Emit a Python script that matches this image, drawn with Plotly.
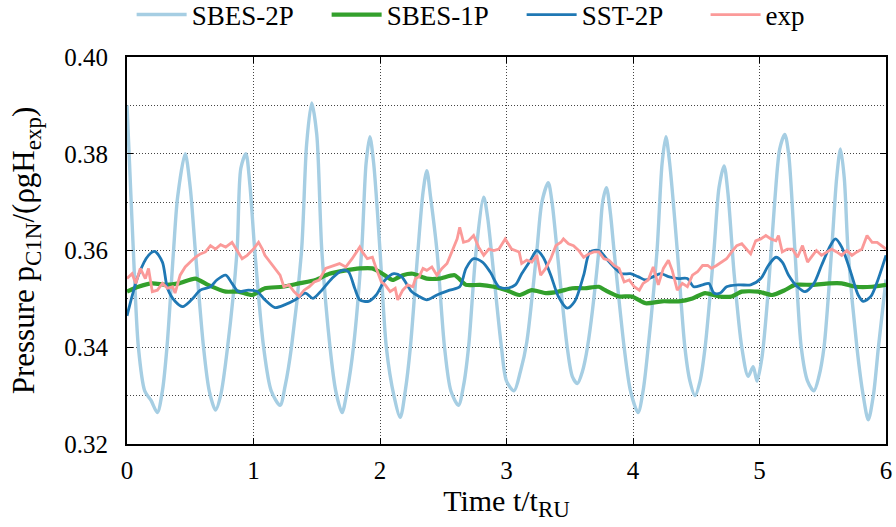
import plotly.graph_objects as go

# ---------------- data ----------------
sbes2p_t = [0.00, 0.02, 0.05, 0.09, 0.14, 0.19, 0.24, 0.28, 0.316, 0.368, 0.40, 0.46, 0.50, 0.54, 0.605, 0.65,
            0.70, 0.74, 0.795, 0.87, 0.90, 0.94, 0.97, 1.01, 1.08, 1.14, 1.21, 1.25, 1.30, 1.38, 1.42, 1.46,
            1.50, 1.54, 1.605, 1.65, 1.70, 1.74, 1.79, 1.855, 1.89, 1.92, 1.95, 2.00, 2.05, 2.11, 2.16, 2.20,
            2.24, 2.30, 2.34, 2.37, 2.40, 2.45, 2.51, 2.56, 2.62, 2.66, 2.70, 2.76, 2.82, 2.85, 2.88, 2.96,
            3.00, 3.06, 3.11, 3.16, 3.24, 3.28, 3.33, 3.36, 3.40, 3.48, 3.52, 3.56, 3.60, 3.64, 3.73, 3.76,
            3.79, 3.82, 3.85, 3.93, 3.98, 4.04, 4.08, 4.12, 4.19, 4.23, 4.26, 4.29, 4.35, 4.41, 4.45, 4.49,
            4.53, 4.57, 4.64, 4.68, 4.72, 4.75, 4.80, 4.86, 4.91, 4.95, 4.98, 5.02, 5.07, 5.12, 5.16, 5.20,
            5.23, 5.28, 5.33, 5.38, 5.43, 5.47, 5.51, 5.57, 5.61, 5.64, 5.67, 5.70, 5.77, 5.82, 5.86, 5.90,
            5.94, 6.00]
sbes2p_v = [0.390, 0.378, 0.360, 0.340, 0.331, 0.329, 0.3265, 0.331, 0.340, 0.360, 0.371, 0.380, 0.373, 0.360, 0.340, 0.331,
            0.327, 0.330, 0.340, 0.360, 0.377, 0.380, 0.374, 0.360, 0.340, 0.331, 0.328, 0.332, 0.340, 0.360, 0.382, 0.3905,
            0.384, 0.360, 0.340, 0.331, 0.3265, 0.331, 0.340, 0.360, 0.378, 0.3835, 0.378, 0.360, 0.340, 0.330, 0.3255, 0.331,
            0.340, 0.360, 0.372, 0.3765, 0.371, 0.360, 0.340, 0.331, 0.328, 0.332, 0.340, 0.360, 0.371, 0.367, 0.360, 0.340,
            0.333, 0.331, 0.335, 0.341, 0.360, 0.370, 0.374, 0.370, 0.360, 0.340, 0.334, 0.3325, 0.335, 0.340, 0.360, 0.370,
            0.373, 0.368, 0.360, 0.340, 0.331, 0.3265, 0.331, 0.340, 0.360, 0.378, 0.3835, 0.378, 0.360, 0.340, 0.333, 0.330,
            0.333, 0.340, 0.360, 0.373, 0.3775, 0.372, 0.355, 0.340, 0.334, 0.336, 0.333, 0.338, 0.352, 0.370, 0.381, 0.384,
            0.380, 0.360, 0.340, 0.333, 0.331, 0.334, 0.340, 0.360, 0.375, 0.381, 0.375, 0.360, 0.340, 0.330, 0.325, 0.330,
            0.340, 0.354]

sbes1p_t = [0.00, 0.09, 0.20, 0.31, 0.41, 0.54, 0.64, 0.78, 0.88, 0.99, 1.09, 1.23, 1.36, 1.49, 1.60, 1.73,
            1.84, 1.94, 2.02, 2.10, 2.18, 2.26, 2.37, 2.47, 2.59, 2.68, 2.79, 2.90, 3.00, 3.10, 3.20, 3.31,
            3.41, 3.52, 3.62, 3.73, 3.78, 3.89, 3.99, 4.10, 4.23, 4.36, 4.47, 4.57, 4.68, 4.78, 4.86, 4.99,
            5.10, 5.20, 5.28, 5.42, 5.55, 5.65, 5.76, 5.89, 6.00]
sbes1p_v = [0.3515, 0.3525, 0.3532, 0.3529, 0.3532, 0.3542, 0.3529, 0.3515, 0.3515, 0.3508, 0.3522, 0.3525, 0.3532, 0.3539, 0.3552, 0.3559,
            0.3563, 0.3563, 0.3552, 0.3539, 0.3549, 0.3552, 0.3542, 0.3542, 0.3549, 0.3529, 0.3529, 0.3525, 0.3518, 0.3508, 0.3518, 0.3512,
            0.3515, 0.3522, 0.3522, 0.3525, 0.3518, 0.3505, 0.3505, 0.3491, 0.3495, 0.3495, 0.3501, 0.3512, 0.3505, 0.3505, 0.3515, 0.3515,
            0.3508, 0.3518, 0.3529, 0.3529, 0.3532, 0.3532, 0.3525, 0.3525, 0.3529]

sst2p_t = [0.00, 0.09, 0.17, 0.22, 0.28, 0.32, 0.38, 0.44, 0.51, 0.58, 0.66, 0.71, 0.78, 0.83, 0.88, 0.96,
           1.03, 1.09, 1.17, 1.25, 1.33, 1.41, 1.47, 1.54, 1.62, 1.70, 1.75, 1.80, 1.84, 1.91, 1.97, 2.04,
           2.11, 2.17, 2.25, 2.31, 2.37, 2.45, 2.55, 2.63, 2.68, 2.74, 2.81, 2.87, 2.94, 3.00, 3.07, 3.12,
           3.19, 3.24, 3.29, 3.35, 3.41, 3.48, 3.54, 3.61, 3.66, 3.73, 3.79, 3.86, 3.91, 3.98, 4.04, 4.10,
           4.16, 4.22, 4.28, 4.36, 4.43, 4.48, 4.55, 4.60, 4.64, 4.69, 4.74, 4.84, 4.93, 5.01, 5.07, 5.13,
           5.18, 5.23, 5.30, 5.36, 5.43, 5.49, 5.56, 5.60, 5.65, 5.72, 5.78, 5.82, 5.88, 5.93, 6.00]
sst2p_v = [0.3465, 0.3549, 0.3590, 0.3598, 0.3576, 0.3522, 0.3495, 0.3484, 0.3498, 0.3518, 0.3525, 0.3539, 0.3549, 0.3532, 0.3515, 0.3518,
           0.3515, 0.3498, 0.3482, 0.3488, 0.3498, 0.3512, 0.3501, 0.3518, 0.3542, 0.3559, 0.3556, 0.3522, 0.3498, 0.3495, 0.3508, 0.3539,
           0.3552, 0.3546, 0.3515, 0.3505, 0.3498, 0.3508, 0.3518, 0.3525, 0.3563, 0.3583, 0.3576, 0.3556, 0.3525, 0.3522, 0.3529, 0.3552,
           0.3580, 0.3600, 0.3586, 0.3549, 0.3505, 0.3481, 0.3495, 0.3549, 0.3597, 0.3600, 0.3583, 0.3563, 0.3552, 0.3552, 0.3546, 0.3539,
           0.3546, 0.3552, 0.3546, 0.3542, 0.3542, 0.3525, 0.3529, 0.3532, 0.3512, 0.3512, 0.3525, 0.3529, 0.3529, 0.3542, 0.3569, 0.3586,
           0.3576, 0.3549, 0.3525, 0.3515, 0.3532, 0.3569, 0.3610, 0.3624, 0.3607, 0.3556, 0.3508, 0.3495, 0.3505, 0.3535, 0.3590]

exp_t = [0.00, 0.04, 0.07, 0.105, 0.145, 0.17, 0.20, 0.24, 0.28, 0.32, 0.36, 0.38, 0.42, 0.46, 0.50, 0.54,
         0.58, 0.62, 0.66, 0.70, 0.74, 0.78, 0.83, 0.87, 0.91, 0.95, 1.00, 1.04, 1.07, 1.09, 1.13, 1.17,
         1.21, 1.24, 1.28, 1.32, 1.36, 1.40, 1.44, 1.48, 1.52, 1.57, 1.63, 1.68, 1.73, 1.78, 1.84, 1.86,
         1.90, 1.94, 1.97, 2.01, 2.04, 2.08, 2.12, 2.14, 2.18, 2.22, 2.26, 2.28, 2.31, 2.34, 2.37, 2.41,
         2.45, 2.49, 2.53, 2.57, 2.61, 2.63, 2.66, 2.70, 2.74, 2.78, 2.82, 2.86, 2.90, 2.94, 2.99, 3.04,
         3.10, 3.12, 3.16, 3.20, 3.24, 3.27, 3.31, 3.35, 3.39, 3.43, 3.45, 3.49, 3.53, 3.57, 3.61, 3.65,
         3.69, 3.73, 3.77, 3.81, 3.85, 3.89, 3.93, 3.97, 4.01, 4.05, 4.08, 4.12, 4.16, 4.20, 4.24, 4.28,
         4.31, 4.35, 4.39, 4.43, 4.47, 4.51, 4.55, 4.59, 4.62, 4.66, 4.70, 4.74, 4.78, 4.82, 4.86, 4.90,
         4.93, 4.97, 5.01, 5.05, 5.09, 5.13, 5.15, 5.18, 5.22, 5.26, 5.30, 5.34, 5.38, 5.42, 5.45, 5.49,
         5.53, 5.57, 5.61, 5.65, 5.69, 5.73, 5.77, 5.81, 5.85, 5.89, 5.93, 5.97, 6.00]
exp_v = [0.3542, 0.3552, 0.3532, 0.3563, 0.3542, 0.3563, 0.3515, 0.3518, 0.3532, 0.3522, 0.3525, 0.3512, 0.3549, 0.3566, 0.3576, 0.3586,
         0.3593, 0.3597, 0.3610, 0.3603, 0.3612, 0.3607, 0.3617, 0.3600, 0.3583, 0.3590, 0.3603, 0.3617, 0.3603, 0.3590, 0.3576, 0.3563,
         0.3549, 0.3525, 0.3529, 0.3515, 0.3505, 0.3518, 0.3525, 0.3535, 0.3539, 0.3563, 0.3569, 0.3573, 0.3566, 0.3583, 0.3607, 0.3597,
         0.3583, 0.3586, 0.3563, 0.3535, 0.3529, 0.3515, 0.3522, 0.3498, 0.3518, 0.3529, 0.3525, 0.3542, 0.3546, 0.3563, 0.3559, 0.3566,
         0.3549, 0.3563, 0.3573, 0.3597, 0.3624, 0.3648, 0.3617, 0.3620, 0.3631, 0.3607, 0.3590, 0.3603, 0.3600, 0.3603, 0.3624, 0.3603,
         0.3597, 0.3573, 0.3580, 0.3576, 0.3590, 0.3549, 0.3563, 0.3583, 0.3610, 0.3617, 0.3624, 0.3614, 0.3610, 0.3600, 0.3586, 0.3593,
         0.3597, 0.3597, 0.3583, 0.3580, 0.3569, 0.3563, 0.3535, 0.3539, 0.3525, 0.3518, 0.3532, 0.3539, 0.3566, 0.3529, 0.3563, 0.3580,
         0.3559, 0.3518, 0.3532, 0.3525, 0.3549, 0.3556, 0.3569, 0.3569, 0.3563, 0.3569, 0.3576, 0.3583, 0.3597, 0.3610, 0.3614, 0.3603,
         0.3593, 0.3620, 0.3624, 0.3631, 0.3624, 0.3620, 0.3631, 0.3597, 0.3603, 0.3603, 0.3586, 0.3610, 0.3576, 0.3590, 0.3600, 0.3590,
         0.3597, 0.3603, 0.3597, 0.3590, 0.3600, 0.3590, 0.3597, 0.3603, 0.3631, 0.3617, 0.3617, 0.3610, 0.3603]

x_ticks = [0, 1, 2, 3, 4, 5, 6]
y_ticks = [0.32, 0.34, 0.36, 0.38, 0.40]
y_ticktext = ["0.32", "0.34", "0.36", "0.38", "0.40"]

FONT = "Liberation Serif, Times New Roman, serif"
GRID = "#444444"
GRIDDASH = "1px,2px"
SUB = '<sub><span style="font-size:23px">{}</span></sub>'

fig = go.Figure()
fig.add_trace(go.Scatter(x=sbes2p_t, y=sbes2p_v, name="SBES-2P", mode="lines", legend="legend",
                         line=dict(color="#a6cee3", width=3.4, shape="spline", smoothing=0.8)))
fig.add_trace(go.Scatter(x=sbes1p_t, y=sbes1p_v, name="SBES-1P", mode="lines", legend="legend",
                         line=dict(color="#33a02c", width=4.2, shape="spline", smoothing=0.6)))
fig.add_trace(go.Scatter(x=sst2p_t, y=sst2p_v, name="SST-2P", mode="lines", legend="legend",
                         line=dict(color="#1f78b4", width=2.8, shape="spline", smoothing=0.8)))
fig.add_trace(go.Scatter(x=exp_t, y=exp_v, name="exp", mode="lines", legend="legend2",
                         line=dict(color="#fb9a99", width=2.8)))

axis_common = dict(
    showline=True, linecolor="black", linewidth=2, mirror="ticks",
    ticks="inside", ticklen=6, tickwidth=1, tickcolor="black",
    showgrid=True, gridcolor=GRID, gridwidth=1, griddash=GRIDDASH,
    zeroline=False,
    tickfont=dict(family=FONT, size=25, color="black"),
)

fig.update_xaxes(range=[0, 6], tickvals=x_ticks, ticklabelstandoff=3,
                 title=dict(text="Time t/t" + SUB.format("RU"),
                            font=dict(family=FONT, size=30, color="black"), standoff=4),
                 **axis_common)
fig.update_yaxes(range=[0.32, 0.40], tickvals=y_ticks, ticktext=y_ticktext, ticklabelstandoff=12,
                 minor=dict(dtick=0.01, showgrid=True, gridcolor=GRID, gridwidth=1, griddash=GRIDDASH),
                 title=dict(text="Pressure p" + SUB.format("C1N") + "/(ρgH" + SUB.format("exp") + ")",
                            font=dict(family=FONT, size=31, color="black"), standoff=20),
                 **axis_common)

legend_common = dict(orientation="h", xanchor="left", yanchor="middle", y=1.1085,
                     font=dict(family=FONT, size=27, color="black"),
                     itemwidth=50, entrywidthmode="pixels", entrywidth=130,
                     bgcolor="rgba(0,0,0,0)")

fig.update_layout(
    width=896, height=527,
    margin=dict(l=127, r=10, t=57, b=83, autoexpand=False),
    paper_bgcolor="white", plot_bgcolor="white",
    font=dict(family=FONT, color="black"),
    legend=dict(x=0.0061, **legend_common),
    legend2=dict(x=0.7623, **legend_common),
    showlegend=True,
)

fig.write_html("out.html")
